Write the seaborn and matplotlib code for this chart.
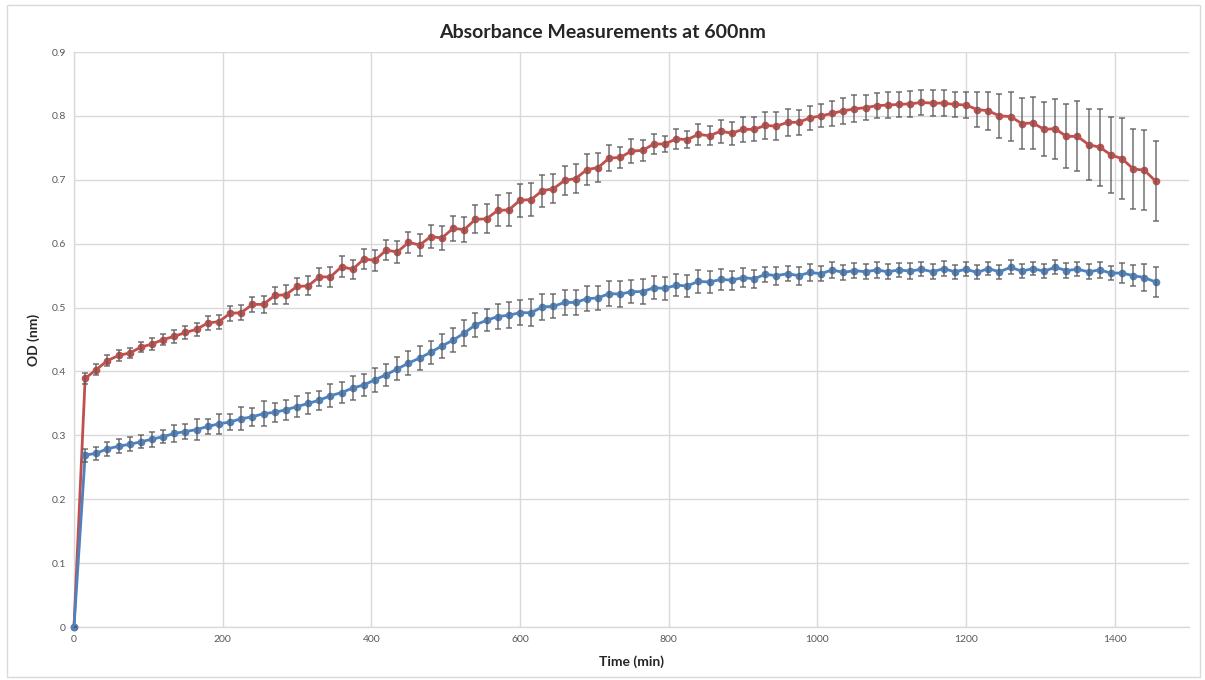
import numpy as np
import pandas as pd
import seaborn as sns
import matplotlib.pyplot as plt
from matplotlib.patches import Rectangle

# ---------------------------------------------------------------------------
# Data (readings every 15 min, 0 - 1455 min)
# ---------------------------------------------------------------------------
time_min = list(range(0, 1456, 15))

od_red = [
    0.000, 0.389, 0.403, 0.417, 0.425, 0.429, 0.438, 0.443, 0.450, 0.455,
    0.461, 0.466, 0.476, 0.478, 0.491, 0.492, 0.505, 0.505, 0.519, 0.520,
    0.533, 0.534, 0.548, 0.548, 0.564, 0.560, 0.576, 0.574, 0.590, 0.587,
    0.602, 0.598, 0.611, 0.609, 0.624, 0.622, 0.638, 0.639, 0.652, 0.653,
    0.668, 0.669, 0.683, 0.686, 0.699, 0.702, 0.716, 0.719, 0.734, 0.735,
    0.745, 0.746, 0.756, 0.756, 0.764, 0.763, 0.771, 0.769, 0.776, 0.773,
    0.779, 0.779, 0.785, 0.784, 0.790, 0.790, 0.797, 0.800, 0.804, 0.808,
    0.811, 0.813, 0.816, 0.817, 0.818, 0.819, 0.821, 0.820, 0.820, 0.818,
    0.817, 0.810, 0.808, 0.800, 0.799, 0.788, 0.789, 0.779, 0.780, 0.768,
    0.768, 0.755, 0.751, 0.739, 0.733, 0.717, 0.715, 0.698,
]
err_red = [
    0.000, 0.009, 0.008, 0.009, 0.008, 0.008, 0.008, 0.009, 0.009, 0.010,
    0.010, 0.010, 0.011, 0.011, 0.0115, 0.012, 0.012, 0.013, 0.013, 0.015,
    0.014, 0.015, 0.014, 0.016, 0.016, 0.015, 0.016, 0.016, 0.016, 0.017,
    0.016, 0.017, 0.018, 0.019, 0.020, 0.020, 0.022, 0.023, 0.024, 0.026,
    0.026, 0.026, 0.025, 0.023, 0.023, 0.023, 0.024, 0.023, 0.020, 0.017,
    0.019, 0.017, 0.015, 0.012, 0.016, 0.014, 0.017, 0.015, 0.018, 0.018,
    0.020, 0.019, 0.021, 0.022, 0.021, 0.020, 0.019, 0.018, 0.020, 0.020,
    0.021, 0.020, 0.020, 0.020, 0.020, 0.020, 0.020, 0.020, 0.020, 0.020,
    0.021, 0.028, 0.030, 0.035, 0.038, 0.040, 0.041, 0.042, 0.047, 0.050,
    0.055, 0.056, 0.060, 0.059, 0.063, 0.063, 0.063, 0.062,
]

od_blue = [
    0.000, 0.269, 0.272, 0.279, 0.283, 0.286, 0.290, 0.294, 0.298, 0.303,
    0.306, 0.309, 0.314, 0.318, 0.321, 0.326, 0.329, 0.334, 0.336, 0.340,
    0.345, 0.350, 0.355, 0.362, 0.367, 0.374, 0.379, 0.387, 0.395, 0.404,
    0.413, 0.421, 0.430, 0.440, 0.449, 0.460, 0.473, 0.480, 0.486, 0.488,
    0.492, 0.492, 0.501, 0.502, 0.508, 0.508, 0.514, 0.515, 0.522, 0.521,
    0.525, 0.525, 0.531, 0.530, 0.535, 0.534, 0.541, 0.540, 0.544, 0.543,
    0.547, 0.545, 0.552, 0.550, 0.553, 0.550, 0.555, 0.553, 0.559, 0.555,
    0.558, 0.556, 0.559, 0.556, 0.559, 0.557, 0.560, 0.556, 0.561, 0.556,
    0.560, 0.555, 0.561, 0.556, 0.563, 0.557, 0.561, 0.557, 0.563, 0.558,
    0.560, 0.556, 0.559, 0.554, 0.554, 0.550, 0.547, 0.540,
]
err_blue = [
    0.000, 0.010, 0.010, 0.011, 0.011, 0.011, 0.010, 0.012, 0.010, 0.013,
    0.012, 0.016, 0.012, 0.016, 0.012, 0.018, 0.014, 0.020, 0.015, 0.016,
    0.016, 0.016, 0.015, 0.018, 0.016, 0.019, 0.017, 0.019, 0.017, 0.018,
    0.019, 0.019, 0.018, 0.019, 0.019, 0.020, 0.019, 0.017, 0.019, 0.020,
    0.020, 0.021, 0.020, 0.019, 0.019, 0.020, 0.019, 0.019, 0.019, 0.020,
    0.018, 0.019, 0.018, 0.018, 0.017, 0.017, 0.018, 0.017, 0.016, 0.015,
    0.015, 0.014, 0.012, 0.014, 0.012, 0.014, 0.013, 0.012, 0.013, 0.012,
    0.012, 0.012, 0.012, 0.012, 0.011, 0.012, 0.011, 0.012, 0.012, 0.011,
    0.011, 0.011, 0.010, 0.011, 0.011, 0.011, 0.010, 0.011, 0.011, 0.011,
    0.011, 0.012, 0.012, 0.011, 0.015, 0.017, 0.021, 0.024,
]

x_ticks = [0, 200, 400, 600, 800, 1000, 1200, 1400]
y_ticks = [0, 0.1, 0.2, 0.3, 0.4, 0.5, 0.6, 0.7, 0.8, 0.9]
y_tick_labels = ["0", "0.1", "0.2", "0.3", "0.4", "0.5", "0.6", "0.7", "0.8", "0.9"]

series = {"red": (od_red, err_red), "blue": (od_blue, err_blue)}
palette = {"red": "#C0504D", "blue": "#4F81BD"}

rows = []
for name, (vals, errs) in series.items():
    for t, v, e in zip(time_min, vals, errs):
        rows.append({"Time": t, "OD": v, "Err": e, "Series": name})
df = pd.DataFrame(rows)

# ---------------------------------------------------------------------------
# Plot
# ---------------------------------------------------------------------------
sns.set_style("white")
plt.rcParams["font.family"] = ["Lato", "DejaVu Sans"]

fig = plt.figure(figsize=(12.05, 6.8), dpi=100)
ax = fig.add_axes([0.0614, 0.0779, 0.9253, 0.8456])

sns.lineplot(
    data=df, x="Time", y="OD", hue="Series", palette=palette,
    hue_order=["red", "blue"], marker="o", markersize=5.5, markeredgewidth=0,
    linewidth=2, legend=False, ax=ax, clip_on=False, zorder=3,
)

for name in ["red", "blue"]:
    sub = df[df["Series"] == name]
    ax.errorbar(
        sub["Time"], sub["OD"], yerr=sub["Err"], fmt="none",
        ecolor="#5a5a5a", elinewidth=1.1, capsize=2.2, capthick=1.1,
        alpha=0.85, zorder=4,
    )

ax.set_xlim(0, 1500)
ax.set_ylim(0, 0.9)
ax.set_xticks(x_ticks)
ax.set_yticks(y_ticks)
ax.set_yticklabels(y_tick_labels)
ax.tick_params(length=0, labelsize=7.5, labelcolor="#595959", pad=6)
ax.grid(True, color="#d9d9d9", linewidth=1)
ax.set_axisbelow(True)
for side in ["top", "right"]:
    ax.spines[side].set_visible(False)
for side in ["left", "bottom"]:
    ax.spines[side].set_color("#d9d9d9")
    ax.spines[side].set_linewidth(1)

ax.set_xlabel("Time (min)", fontsize=10, fontweight="bold", labelpad=8)
ax.set_ylabel("OD (nm)", fontsize=10, fontweight="bold", labelpad=8)
fig.suptitle("Absorbance Measurements at 600nm", fontsize=14, fontweight="bold",
             y=0.965)

# chart-area border
fig.patches.append(Rectangle((0.006, 0.004), 0.99, 0.988, transform=fig.transFigure,
                             fill=False, edgecolor="#d9d9d9", linewidth=1))

fig.savefig("out.png", dpi=100)
plt.close(fig)
